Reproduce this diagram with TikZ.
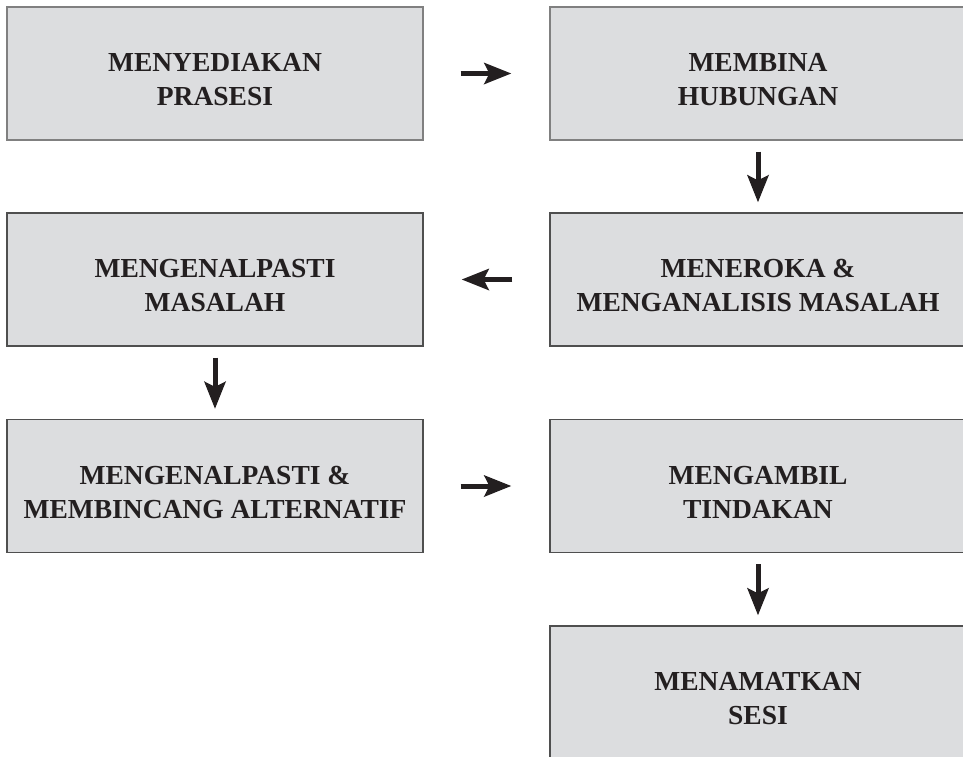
\documentclass[tikz,border=0pt]{standalone}
\usepackage{fontspec}
\setmainfont{Liberation Serif}
\usetikzlibrary{arrows.meta}
\definecolor{boxfill}{HTML}{DCDDDF}
\definecolor{lightedge}{HTML}{808080}
\definecolor{darkedge}{HTML}{4F4F4F}
\definecolor{ink}{HTML}{231F20}
\tikzset{
  stepbox/.style={rectangle, draw=darkedge, fill=boxfill, line width=1.3pt,
    minimum width=416pt, minimum height=133pt, inner sep=0pt},
  steptext/.style={inner sep=0pt, align=center, text=ink,
    font=\fontsize{27.5}{34}\selectfont\bfseries},
  toprow/.style={draw=lightedge},
  flow/.style={ink, line width=5pt,
    -{Stealth[length=27pt,width=21pt,inset=5pt]}}
}
\begin{document}
\begin{tikzpicture}[x=1pt,y=-1pt]
\useasboundingbox (0,0) rectangle (963,756);
\begin{scope}
\clip (0,0) rectangle (963,756);
\node[stepbox,toprow] (a) at (215,73.5) {};
\node[stepbox,toprow] (b) at (758,73.5) {};
\node[stepbox] (c) at (758,279.5) {};
\node[stepbox] (d) at (215,279.5) {};
\node[stepbox] (e) at (215,486) {};
\node[stepbox] (f) at (758,486) {};
\node[stepbox] (g) at (758,692.5) {};
\end{scope}
\node[steptext] (at) at ([yshift=-6pt]a.center) {MENYEDIAKAN\\PRASESI};
\node[steptext] (bt) at ([yshift=-6pt]b.center) {MEMBINA\\HUBUNGAN};
\node[steptext] (ct) at ([yshift=-6pt]c.center) {MENEROKA \&\\MENGANALISIS MASALAH};
\node[steptext] (dt) at ([yshift=-6pt]d.center) {MENGENALPASTI\\MASALAH};
\node[steptext] (et) at ([yshift=-6pt]e.center) {MENGENALPASTI \&\\MEMBINCANG ALTERNATIF};
\node[steptext] (ft) at ([yshift=-6pt]f.center) {MENGAMBIL\\TINDAKAN};
\node[steptext] (gt) at ([yshift=-6pt]g.center) {MENAMATKAN\\SESI};
\draw[flow, shorten <=37pt, shorten >=38pt] (a.east) -- (b.west);
\draw[flow, shorten <=11pt, shorten >=10pt] (b.south) -- (c.north);
\draw[flow, shorten <=37pt, shorten >=38pt] (c.west) -- (d.east);
\draw[flow, shorten <=11pt, shorten >=10pt] (d.south) -- (e.north);
\draw[flow, shorten <=37pt, shorten >=38pt] (e.east) -- (f.west);
\draw[flow, shorten <=11pt, shorten >=10pt] (f.south) -- (g.north);
\end{tikzpicture}
\end{document}
